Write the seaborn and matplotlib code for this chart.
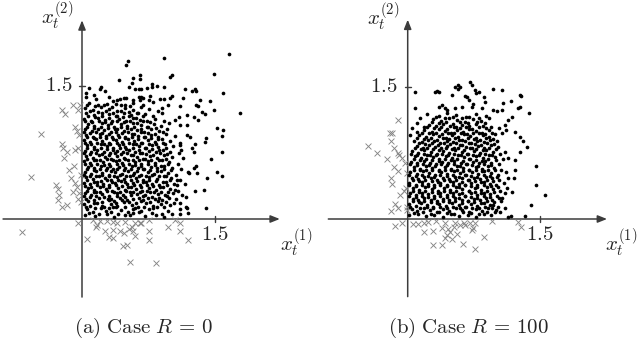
import matplotlib
matplotlib.use("Agg")
import matplotlib.pyplot as plt
import pandas as pd
import seaborn as sns

sns.set_theme(style="white")
plt.rcParams["mathtext.fontset"] = "cm"
plt.rcParams["font.family"] = ["DejaVu Serif"]

# ---------------- data ----------------
# Panel (a): feasible states (dots)
feasible_a = [
    (0.03,0.05),(0.15,0.03),(0.28,0.06),(0.36,0.02),(0.49,0.04),(0.58,0.07),(0.71,0.03),(0.83,0.05),(0.93,0.02),(1.02,0.06),
    (0.06,0.11),(0.12,0.08),(0.21,0.12),(0.27,0.09),(0.35,0.13),(0.44,0.10),(0.52,0.08),(0.60,0.12),(0.67,0.09),(0.76,0.11),(0.85,0.13),(0.97,0.09),(1.10,0.11),
    (0.02,0.17),(0.09,0.15),(0.17,0.18),(0.25,0.14),(0.33,0.17),(0.40,0.15),(0.47,0.19),(0.56,0.16),(0.63,0.14),(0.72,0.18),(0.80,0.15),(0.89,0.17),(0.99,0.16),(1.17,0.14),
    (0.05,0.23),(0.13,0.21),(0.19,0.24),(0.29,0.22),(0.36,0.20),(0.43,0.24),(0.51,0.21),(0.58,0.23),(0.66,0.20),(0.74,0.24),(0.82,0.22),(0.90,0.21),(0.98,0.24),(1.06,0.22),
    (0.03,0.29),(0.10,0.27),(0.16,0.30),(0.23,0.28),(0.31,0.26),(0.39,0.29),(0.46,0.27),(0.54,0.30),(0.62,0.28),(0.69,0.26),(0.77,0.30),(0.86,0.28),(0.94,0.27),(1.03,0.29),(1.13,0.27),
    (0.07,0.35),(0.13,0.33),(0.20,0.36),(0.27,0.34),(0.34,0.32),(0.41,0.35),(0.48,0.33),(0.55,0.36),(0.61,0.34),(0.68,0.32),(0.75,0.35),(0.83,0.33),(0.91,0.36),(0.99,0.34),(1.08,0.32),
    (0.02,0.41),(0.09,0.39),(0.17,0.42),(0.24,0.40),(0.30,0.38),(0.37,0.41),(0.44,0.43),(0.51,0.39),(0.58,0.41),(0.65,0.38),(0.72,0.42),(0.79,0.40),(0.87,0.38),(0.95,0.42),(1.04,0.40),(1.16,0.39),
    (0.05,0.47),(0.12,0.45),(0.19,0.48),(0.26,0.46),(0.33,0.44),(0.40,0.47),(0.47,0.45),(0.54,0.48),(0.61,0.46),(0.69,0.44),(0.76,0.47),(0.84,0.45),(0.92,0.48),(1.00,0.46),(1.10,0.44),
    (0.03,0.53),(0.10,0.51),(0.16,0.54),(0.23,0.52),(0.30,0.50),(0.37,0.53),(0.45,0.51),(0.52,0.54),(0.59,0.52),(0.66,0.50),(0.74,0.53),(0.81,0.51),(0.89,0.54),(0.97,0.52),(1.06,0.50),(1.19,0.53),
    (0.07,0.59),(0.14,0.57),(0.21,0.60),(0.28,0.58),(0.35,0.56),(0.42,0.59),(0.49,0.57),(0.56,0.60),(0.63,0.58),(0.70,0.56),(0.78,0.59),(0.85,0.57),(0.93,0.60),(1.02,0.58),(1.12,0.56),
    (0.02,0.65),(0.09,0.63),(0.16,0.66),(0.24,0.64),(0.31,0.62),(0.38,0.65),(0.45,0.63),(0.52,0.66),(0.60,0.64),(0.67,0.62),(0.74,0.65),(0.82,0.63),(0.90,0.66),(0.98,0.64),(1.08,0.62),
    (0.05,0.71),(0.12,0.69),(0.19,0.72),(0.26,0.70),(0.33,0.68),(0.40,0.71),(0.47,0.69),(0.55,0.72),(0.62,0.70),(0.69,0.68),(0.77,0.71),(0.84,0.69),(0.92,0.72),(1.01,0.70),(1.14,0.69),
    (0.03,0.77),(0.10,0.75),(0.17,0.78),(0.25,0.76),(0.32,0.74),(0.39,0.77),(0.46,0.75),(0.53,0.78),(0.60,0.76),(0.68,0.74),(0.75,0.77),(0.83,0.75),(0.91,0.78),(0.99,0.76),(1.09,0.74),
    (0.06,0.83),(0.13,0.81),(0.21,0.84),(0.28,0.82),(0.35,0.80),(0.42,0.83),(0.49,0.81),(0.57,0.84),(0.64,0.82),(0.71,0.80),(0.79,0.83),(0.86,0.81),(0.94,0.84),(1.03,0.82),
    (0.02,0.89),(0.09,0.87),(0.16,0.90),(0.23,0.88),(0.31,0.86),(0.38,0.89),(0.45,0.87),(0.52,0.90),(0.59,0.88),(0.67,0.86),(0.74,0.89),(0.82,0.87),(0.90,0.90),(0.99,0.88),(1.11,0.86),
    (0.05,0.95),(0.12,0.93),(0.20,0.96),(0.27,0.94),(0.34,0.92),(0.41,0.95),(0.48,0.93),(0.56,0.96),(0.63,0.94),(0.70,0.92),(0.78,0.95),(0.86,0.93),(0.95,0.96),(1.05,0.94),
    (0.03,1.01),(0.11,0.99),(0.18,1.02),(0.25,1.00),(0.33,0.98),(0.40,1.01),(0.47,0.99),(0.55,1.02),(0.62,1.00),(0.70,0.98),(0.78,1.01),(0.87,0.99),(0.96,1.02),
    (0.07,1.07),(0.14,1.05),(0.22,1.08),(0.29,1.06),(0.36,1.04),(0.44,1.07),(0.51,1.05),(0.58,1.08),(0.66,1.06),(0.73,1.04),(0.81,1.07),(0.89,1.05),(0.98,1.08),
    (0.02,1.13),(0.10,1.11),(0.18,1.14),(0.26,1.12),(0.34,1.10),(0.42,1.13),(0.50,1.11),(0.57,1.14),(0.65,1.12),(0.73,1.10),(0.82,1.13),(0.92,1.11),
    (0.05,1.19),(0.14,1.17),(0.22,1.20),(0.31,1.18),(0.39,1.16),(0.47,1.19),(0.55,1.17),(0.63,1.20),(0.71,1.18),(0.80,1.16),(0.90,1.19),
    (0.03,1.25),(0.12,1.23),(0.21,1.26),(0.30,1.24),(0.39,1.22),(0.48,1.25),(0.57,1.23),(0.66,1.26),(0.76,1.24),(0.86,1.22),
    (0.08,1.31),(0.18,1.29),(0.38,1.30),(0.48,1.28),(0.58,1.31),(0.69,1.29),(0.80,1.32),
    (0.04,1.37),(0.16,1.35),(0.57,1.34),(0.88,1.35),
    # second layer of the dense core
    (0.08,0.07),(0.19,0.06),(0.33,0.08),(0.41,0.06),(0.54,0.05),(0.64,0.08),(0.79,0.07),(0.90,0.06),
    (0.04,0.13),(0.15,0.12),(0.23,0.15),(0.30,0.12),(0.38,0.14),(0.49,0.13),(0.57,0.11),(0.70,0.14),(0.80,0.12),(0.92,0.14),
    (0.07,0.20),(0.13,0.18),(0.22,0.19),(0.31,0.21),(0.38,0.18),(0.45,0.21),(0.53,0.19),(0.61,0.18),(0.69,0.21),(0.77,0.19),(0.86,0.20),(0.95,0.19),(1.04,0.18),
    (0.02,0.26),(0.09,0.25),(0.16,0.26),(0.25,0.25),(0.33,0.23),(0.40,0.26),(0.48,0.25),(0.55,0.27),(0.64,0.24),(0.71,0.27),(0.79,0.25),(0.87,0.24),(0.96,0.26),
    (0.06,0.32),(0.13,0.30),(0.20,0.31),(0.28,0.32),(0.36,0.30),(0.43,0.31),(0.50,0.32),(0.58,0.31),(0.65,0.30),(0.73,0.32),(0.81,0.31),(0.89,0.30),(0.97,0.31),
    (0.03,0.37),(0.10,0.36),(0.17,0.38),(0.24,0.37),(0.31,0.36),(0.38,0.38),(0.45,0.37),(0.52,0.36),(0.59,0.38),(0.66,0.36),(0.73,0.38),(0.80,0.37),(0.88,0.36),(0.96,0.38),
    (0.06,0.44),(0.13,0.42),(0.21,0.43),(0.28,0.44),(0.34,0.42),(0.41,0.44),(0.48,0.42),(0.55,0.44),(0.62,0.43),(0.69,0.42),(0.76,0.44),(0.83,0.43),(0.91,0.42),(0.99,0.44),
    (0.02,0.50),(0.09,0.49),(0.16,0.48),(0.23,0.50),(0.30,0.48),(0.36,0.49),(0.43,0.50),(0.50,0.48),(0.57,0.50),(0.64,0.49),(0.72,0.48),(0.79,0.50),(0.87,0.49),(0.95,0.48),
    (0.06,0.56),(0.13,0.55),(0.20,0.56),(0.27,0.55),(0.33,0.54),(0.40,0.56),(0.47,0.55),(0.55,0.56),(0.62,0.54),(0.69,0.56),(0.77,0.55),(0.84,0.54),(0.92,0.56),(1.00,0.55),
    (0.03,0.62),(0.10,0.61),(0.17,0.62),(0.25,0.61),(0.32,0.60),(0.39,0.62),(0.46,0.61),(0.53,0.62),(0.60,0.61),(0.67,0.60),(0.74,0.62),(0.82,0.61),(0.89,0.60),(0.97,0.62),
    (0.06,0.68),(0.13,0.67),(0.20,0.66),(0.28,0.68),(0.35,0.67),(0.42,0.66),(0.49,0.68),(0.57,0.67),(0.64,0.66),(0.71,0.68),(0.78,0.67),(0.87,0.66),(0.95,0.68),
    (0.02,0.74),(0.09,0.73),(0.16,0.74),(0.23,0.73),(0.30,0.72),(0.37,0.74),(0.44,0.73),(0.51,0.74),(0.58,0.72),(0.65,0.74),(0.72,0.73),(0.80,0.72),(0.88,0.74),(0.96,0.73),
    (0.06,0.80),(0.14,0.79),(0.21,0.80),(0.28,0.79),(0.35,0.78),(0.43,0.80),(0.50,0.79),(0.57,0.80),(0.64,0.78),(0.72,0.80),(0.79,0.79),(0.87,0.78),(0.95,0.80),
    (0.03,0.86),(0.10,0.85),(0.17,0.86),(0.25,0.85),(0.32,0.84),(0.39,0.86),(0.46,0.85),(0.53,0.86),(0.61,0.84),(0.68,0.86),(0.75,0.85),(0.83,0.84),(0.91,0.86),
    (0.06,0.92),(0.13,0.91),(0.20,0.92),(0.27,0.91),(0.35,0.90),(0.42,0.92),(0.49,0.91),(0.56,0.92),(0.63,0.90),(0.71,0.92),(0.78,0.91),(0.86,0.90),
    (0.02,0.98),(0.09,0.97),(0.16,0.98),(0.23,0.97),(0.30,0.96),(0.38,0.98),(0.45,0.97),(0.52,0.98),(0.59,0.96),(0.67,0.98),(0.74,0.97),(0.82,0.96),(0.91,0.98),
    (0.06,1.04),(0.14,1.03),(0.21,1.04),(0.29,1.03),(0.37,1.02),(0.44,1.04),(0.51,1.03),(0.59,1.04),(0.66,1.02),(0.74,1.04),(0.83,1.03),
    (0.03,1.10),(0.11,1.09),(0.19,1.10),(0.26,1.09),(0.33,1.08),(0.40,1.10),(0.47,1.09),(0.54,1.10),(0.62,1.08),(0.69,1.10),(0.77,1.09),
    (0.07,1.16),(0.15,1.15),(0.23,1.16),(0.30,1.14),(0.38,1.16),(0.46,1.15),(0.53,1.16),(0.61,1.14),(0.69,1.16),
    (0.09,1.22),(0.18,1.21),(0.27,1.22),(0.35,1.20),(0.44,1.22),(0.53,1.21),(0.62,1.20),
    (0.06,1.28),(0.15,1.27),(0.25,1.28),(0.34,1.26),(0.44,1.28),(0.54,1.27),
    # sparse outer dots
    (1.66,1.86),(0.92,1.82),(0.52,1.78),(0.50,1.74),(0.42,1.57),(0.57,1.59),(0.65,1.62),(0.65,1.58),(0.99,1.60),(1.02,1.62),
    (1.49,1.64),(0.08,1.48),(0.20,1.47),(0.21,1.49),(0.26,1.44),(0.05,1.42),(0.13,1.40),(0.53,1.49),(0.56,1.53),(0.60,1.47),
    (0.64,1.47),(0.67,1.47),(0.73,1.48),(0.79,1.52),(0.79,1.49),(0.84,1.50),(0.92,1.49),(1.16,1.47),(1.27,1.47),(1.29,1.44),
    (1.24,1.44),(1.59,1.42),(1.78,1.20),(1.49,1.23),(1.44,1.33),(1.33,1.34),(1.29,1.29),(1.31,1.27),(1.14,1.36),(1.11,1.27),
    (1.01,1.39),(0.99,1.36),(0.92,1.35),(0.77,1.39),(0.75,1.34),(0.64,1.38),(0.67,1.38),(0.69,1.36),(0.65,1.34),(0.47,1.36),
    (0.50,1.36),(0.39,1.34),(0.43,1.35),(0.35,1.33),(0.30,1.38),(0.28,1.30),(1.39,1.18),(1.35,1.21),(1.52,1.03),(1.59,1.00),
    (0.97,1.28),(0.90,1.25),(1.18,1.17),(1.26,1.15),(1.09,1.15),(1.05,1.12),(1.31,1.12),(1.18,1.06),(1.11,1.06),(1.58,0.94),
    (1.40,0.91),(1.39,0.87),(1.18,0.95),(1.22,0.92),(1.58,0.75),(1.45,0.68),(1.27,0.85),(1.24,0.80),(1.26,0.76),(1.11,0.83),
    (1.12,0.78),(1.29,0.60),(1.26,0.58),(1.30,0.52),(1.21,0.52),(1.52,0.53),(1.58,0.48),(1.41,0.46),(1.27,0.32),(1.38,0.33),
    (1.07,0.44),(1.07,0.38),(1.05,0.33),(1.17,0.25),(1.11,0.18),(1.18,0.12),(1.40,0.12),(1.20,0.07),(1.11,0.06),
]
# Panel (a): infeasible states (crosses)
infeasible_a = [
    (-0.10,1.29),(-0.05,1.23),(-0.02,1.29),(-0.22,1.23),(-0.19,1.18),(-0.46,0.96),(-0.08,1.04),(-0.06,0.99),(-0.03,0.95),
    (-0.22,0.85),(-0.21,0.80),(-0.17,0.75),(-0.20,0.69),(-0.08,0.78),(-0.05,0.80),(-0.09,0.60),(-0.15,0.55),(-0.01,0.50),
    (-0.58,0.47),(-0.12,0.46),(-0.08,0.41),(-0.29,0.38),(-0.27,0.34),(-0.06,0.36),(-0.10,0.31),(-0.03,0.29),(-0.26,0.27),
    (-0.04,0.23),(-0.27,0.21),(-0.01,0.19),(-0.22,0.14),(-0.17,0.16),(-0.05,-0.05),(-0.68,-0.15),
    (0.12,-0.01),(0.16,-0.09),(0.17,-0.07),(0.06,-0.23),(0.26,-0.14),(0.35,-0.12),(0.30,-0.20),(0.35,-0.21),(0.43,-0.14),
    (0.47,-0.16),(0.28,-0.02),(0.35,-0.03),(0.53,-0.11),(0.56,-0.09),(0.60,-0.05),(0.65,-0.04),(0.67,-0.05),(0.58,-0.14),
    (0.60,-0.19),(0.46,-0.31),(0.51,-0.29),(0.75,-0.14),(0.75,-0.24),(0.75,-0.01),(0.97,-0.09),(1.05,-0.01),(1.11,-0.04),
    (1.11,-0.14),(1.20,-0.24),(0.54,-0.48),(0.83,-0.50),(0.20,-0.02),(0.40,-0.05),(0.49,-0.03),
]
# Panel (b): feasible states (dots)
feasible_b = [
    (0.02,0.04),(0.12,0.06),(0.21,0.03),(0.30,0.05),(0.40,0.02),(0.49,0.06),(0.58,0.03),(0.68,0.05),(0.77,0.02),(0.86,0.06),(0.94,0.04),
    (0.05,0.11),(0.11,0.09),(0.18,0.12),(0.25,0.10),(0.33,0.08),(0.40,0.11),(0.47,0.09),(0.55,0.12),(0.62,0.10),(0.69,0.08),(0.77,0.11),(0.84,0.09),(0.91,0.12),(1.00,0.10),
    (0.02,0.17),(0.09,0.15),(0.15,0.18),(0.22,0.16),(0.29,0.14),(0.36,0.17),(0.43,0.15),(0.50,0.18),(0.58,0.16),(0.65,0.14),(0.72,0.17),(0.79,0.15),(0.86,0.18),(0.93,0.16),(1.02,0.14),
    (0.06,0.23),(0.12,0.21),(0.19,0.24),(0.26,0.22),(0.33,0.20),(0.40,0.23),(0.47,0.21),(0.54,0.24),(0.61,0.22),(0.68,0.20),(0.75,0.23),(0.82,0.21),(0.89,0.24),(0.96,0.22),(1.06,0.20),
    (0.03,0.29),(0.09,0.27),(0.16,0.30),(0.23,0.28),(0.30,0.26),(0.37,0.29),(0.44,0.27),(0.51,0.30),(0.58,0.28),(0.65,0.26),(0.72,0.29),(0.79,0.27),(0.86,0.30),(0.93,0.28),(1.01,0.26),(1.10,0.29),
    (0.06,0.35),(0.13,0.33),(0.20,0.36),(0.27,0.34),(0.34,0.32),(0.41,0.35),(0.48,0.33),(0.55,0.36),(0.62,0.34),(0.69,0.32),(0.76,0.35),(0.83,0.33),(0.90,0.36),(0.97,0.34),(1.05,0.32),(1.13,0.35),
    (0.02,0.41),(0.09,0.39),(0.16,0.42),(0.23,0.40),(0.30,0.38),(0.37,0.41),(0.44,0.39),(0.51,0.42),(0.58,0.40),(0.65,0.38),(0.72,0.41),(0.79,0.39),(0.86,0.42),(0.93,0.40),(1.00,0.38),(1.09,0.41),
    (0.05,0.47),(0.12,0.45),(0.19,0.48),(0.26,0.46),(0.33,0.44),(0.40,0.47),(0.47,0.45),(0.54,0.48),(0.61,0.46),(0.68,0.44),(0.75,0.47),(0.82,0.45),(0.89,0.48),(0.96,0.46),(1.04,0.44),(1.14,0.47),
    (0.03,0.53),(0.10,0.51),(0.17,0.54),(0.24,0.52),(0.31,0.50),(0.38,0.53),(0.45,0.51),(0.52,0.54),(0.59,0.52),(0.66,0.50),(0.73,0.53),(0.80,0.51),(0.87,0.54),(0.94,0.52),(1.02,0.50),(1.11,0.53),
    (0.07,0.59),(0.14,0.57),(0.21,0.60),(0.28,0.58),(0.35,0.56),(0.42,0.59),(0.49,0.57),(0.56,0.60),(0.63,0.58),(0.70,0.56),(0.77,0.59),(0.84,0.57),(0.91,0.60),(0.98,0.58),(1.06,0.56),
    (0.04,0.65),(0.11,0.63),(0.18,0.66),(0.25,0.64),(0.32,0.62),(0.39,0.65),(0.46,0.63),(0.53,0.66),(0.60,0.64),(0.67,0.62),(0.74,0.65),(0.81,0.63),(0.88,0.66),(0.95,0.64),(1.03,0.62),
    (0.08,0.71),(0.15,0.69),(0.22,0.72),(0.29,0.70),(0.36,0.68),(0.43,0.71),(0.50,0.69),(0.57,0.72),(0.64,0.70),(0.71,0.68),(0.78,0.71),(0.85,0.69),(0.92,0.72),(0.99,0.70),(1.08,0.68),
    (0.05,0.77),(0.12,0.75),(0.19,0.78),(0.26,0.76),(0.33,0.74),(0.40,0.77),(0.47,0.75),(0.54,0.78),(0.61,0.76),(0.68,0.74),(0.75,0.77),(0.82,0.75),(0.89,0.78),(0.97,0.76),(1.05,0.74),
    (0.10,0.83),(0.17,0.81),(0.24,0.84),(0.31,0.82),(0.38,0.80),(0.45,0.83),(0.52,0.81),(0.59,0.84),(0.66,0.82),(0.73,0.80),(0.80,0.83),(0.87,0.81),(0.94,0.84),(1.02,0.82),
    (0.07,0.89),(0.16,0.87),(0.23,0.90),(0.30,0.88),(0.37,0.86),(0.44,0.89),(0.51,0.87),(0.58,0.90),(0.65,0.88),(0.72,0.86),(0.79,0.89),(0.86,0.87),(0.93,0.90),(1.01,0.88),
    (0.13,0.95),(0.21,0.93),(0.29,0.96),(0.36,0.94),(0.43,0.92),(0.50,0.95),(0.57,0.93),(0.64,0.96),(0.71,0.94),(0.78,0.92),(0.85,0.95),(0.92,0.93),(0.99,0.96),
    (0.19,1.01),(0.27,0.99),(0.35,1.02),(0.42,1.00),(0.49,0.98),(0.56,1.01),(0.63,0.99),(0.70,1.02),(0.77,1.00),(0.84,0.98),(0.92,1.01),
    (0.24,1.07),(0.32,1.05),(0.40,1.08),(0.48,1.06),(0.55,1.04),(0.62,1.07),(0.70,1.05),(0.77,1.08),(0.85,1.06),(0.94,1.04),
    (0.29,1.13),(0.38,1.11),(0.47,1.14),(0.56,1.12),(0.65,1.10),(0.74,1.13),(0.83,1.11),(0.92,1.14),
    (0.22,1.19),(0.35,1.17),(0.45,1.20),(0.55,1.18),(0.66,1.16),(0.78,1.19),(0.89,1.17),
    # second layer of the dense core
    (0.07,0.07),(0.17,0.08),(0.26,0.06),(0.35,0.08),(0.44,0.07),(0.53,0.06),(0.63,0.08),(0.72,0.07),(0.81,0.06),(0.90,0.08),
    (0.03,0.14),(0.14,0.13),(0.22,0.14),(0.29,0.12),(0.37,0.14),(0.44,0.13),(0.51,0.14),(0.59,0.12),(0.66,0.14),(0.73,0.13),(0.81,0.12),(0.88,0.14),(0.96,0.13),
    (0.06,0.20),(0.13,0.19),(0.19,0.20),(0.26,0.19),(0.33,0.18),(0.40,0.20),(0.47,0.19),(0.54,0.20),(0.61,0.18),(0.68,0.20),(0.75,0.19),(0.83,0.18),(0.90,0.20),(0.98,0.19),
    (0.02,0.26),(0.09,0.25),(0.16,0.26),(0.23,0.25),(0.30,0.24),(0.37,0.26),(0.44,0.25),(0.51,0.26),(0.58,0.24),(0.65,0.26),(0.72,0.25),(0.79,0.24),(0.86,0.26),(0.93,0.25),(1.03,0.24),
    (0.06,0.32),(0.13,0.31),(0.20,0.32),(0.27,0.31),(0.34,0.30),(0.41,0.32),(0.48,0.31),(0.55,0.32),(0.62,0.30),(0.69,0.32),(0.76,0.31),(0.83,0.30),(0.90,0.32),(0.98,0.31),
    (0.02,0.38),(0.09,0.37),(0.16,0.38),(0.23,0.37),(0.30,0.36),(0.37,0.38),(0.44,0.37),(0.51,0.38),(0.58,0.36),(0.65,0.38),(0.72,0.37),(0.79,0.36),(0.86,0.38),(0.94,0.37),(1.02,0.36),
    (0.06,0.44),(0.13,0.43),(0.20,0.44),(0.27,0.43),(0.34,0.42),(0.41,0.44),(0.48,0.43),(0.55,0.44),(0.62,0.42),(0.69,0.44),(0.76,0.43),(0.83,0.42),(0.90,0.44),(0.97,0.43),
    (0.02,0.50),(0.09,0.49),(0.16,0.50),(0.23,0.49),(0.30,0.48),(0.37,0.50),(0.44,0.49),(0.51,0.50),(0.58,0.48),(0.65,0.50),(0.72,0.49),(0.79,0.48),(0.86,0.50),(0.93,0.49),(1.01,0.48),
    (0.07,0.56),(0.14,0.55),(0.21,0.56),(0.28,0.55),(0.35,0.54),(0.42,0.56),(0.49,0.55),(0.56,0.56),(0.63,0.54),(0.70,0.56),(0.77,0.55),(0.84,0.54),(0.91,0.56),(0.99,0.55),
    (0.03,0.62),(0.10,0.61),(0.17,0.62),(0.24,0.61),(0.31,0.60),(0.38,0.62),(0.45,0.61),(0.52,0.62),(0.59,0.60),(0.66,0.62),(0.73,0.61),(0.80,0.60),(0.87,0.62),(0.95,0.61),
    (0.07,0.68),(0.14,0.67),(0.21,0.68),(0.28,0.67),(0.35,0.66),(0.42,0.68),(0.49,0.67),(0.56,0.68),(0.63,0.66),(0.70,0.68),(0.77,0.67),(0.84,0.66),(0.91,0.68),(1.00,0.67),
    (0.04,0.74),(0.11,0.73),(0.18,0.74),(0.25,0.73),(0.32,0.72),(0.39,0.74),(0.46,0.73),(0.53,0.74),(0.60,0.72),(0.67,0.74),(0.74,0.73),(0.81,0.72),(0.88,0.74),(0.96,0.73),
    (0.08,0.80),(0.15,0.79),(0.22,0.80),(0.29,0.79),(0.36,0.78),(0.43,0.80),(0.50,0.79),(0.57,0.80),(0.64,0.78),(0.71,0.80),(0.78,0.79),(0.85,0.78),(0.92,0.80),(1.00,0.79),
    (0.13,0.86),(0.20,0.85),(0.27,0.86),(0.34,0.84),(0.41,0.86),(0.48,0.85),(0.55,0.86),(0.62,0.84),(0.69,0.86),(0.76,0.85),(0.83,0.84),(0.90,0.86),(0.98,0.85),
    (0.10,0.92),(0.18,0.91),(0.26,0.92),(0.33,0.90),(0.40,0.92),(0.47,0.91),(0.54,0.92),(0.61,0.90),(0.68,0.92),(0.75,0.91),(0.82,0.90),(0.89,0.92),(0.97,0.91),
    (0.16,0.98),(0.24,0.97),(0.32,0.98),(0.39,0.96),(0.46,0.98),(0.53,0.97),(0.60,0.98),(0.67,0.96),(0.74,0.98),(0.81,0.97),(0.88,0.96),(0.96,0.98),
    (0.22,1.04),(0.30,1.03),(0.38,1.04),(0.45,1.02),(0.52,1.04),(0.59,1.03),(0.66,1.04),(0.73,1.02),(0.81,1.04),(0.89,1.03),
    (0.27,1.10),(0.35,1.09),(0.43,1.10),(0.51,1.08),(0.59,1.10),(0.68,1.09),(0.79,1.10),(0.88,1.09),
    (0.32,1.16),(0.42,1.15),(0.51,1.16),(0.61,1.14),(0.70,1.16),(0.81,1.15),
    # sparse outer dots
    (0.71,1.55),(0.73,1.52),(0.54,1.50),(0.57,1.47),(0.59,1.50),(0.57,1.52),(0.76,1.46),(0.78,1.43),(0.81,1.44),(0.97,1.47),
    (1.07,1.46),(0.33,1.45),(0.31,1.44),(0.35,1.44),(0.08,1.44),(0.50,1.41),(0.65,1.39),(0.69,1.35),(0.67,1.38),(0.86,1.38),
    (0.88,1.33),(1.27,1.41),(1.29,1.39),(1.17,1.34),(1.08,1.31),(0.08,1.26),(1.27,1.27),(1.25,1.26),(1.37,1.20),(0.97,1.24),
    (1.01,1.22),(1.07,1.24),(0.35,1.27),(0.39,1.29),(0.42,1.26),(0.44,1.24),(0.54,1.26),(0.61,1.27),(0.73,1.27),(0.74,1.30),
    (0.84,1.26),(1.18,1.16),(1.14,1.12),(1.10,1.07),(1.12,1.01),(1.22,0.99),(1.27,0.93),(1.31,0.88),(1.35,0.82),(1.03,1.03),
    (1.07,0.97),(0.10,1.09),(0.05,1.03),(1.46,0.60),(1.46,0.39),(1.56,0.27),(1.40,0.16),(1.27,0.76),(1.22,0.67),(1.22,0.56),
    (1.20,0.46),(1.18,0.31),(1.10,0.76),(1.14,0.69),(1.33,0.03),(1.17,0.03),(1.14,0.02),(1.07,0.24),(1.10,0.12),(1.05,0.08),
    (0.97,0.16),(0.99,0.08),(0.14,1.15),(0.18,1.04),(0.03,0.95),(0.11,0.99),
]
# Panel (b): infeasible states (crosses)
infeasible_b = [
    (-0.11,1.12),(-0.20,0.97),(-0.18,0.97),(-0.19,0.88),(-0.45,0.83),(-0.16,0.80),(-0.11,0.75),(-0.10,0.73),(-0.35,0.75),
    (-0.24,0.68),(-0.07,0.69),(-0.03,0.64),(-0.15,0.59),(-0.11,0.54),(-0.19,0.47),(-0.18,0.40),(-0.01,0.52),(-0.02,0.35),
    (-0.04,0.32),(-0.09,0.27),(-0.14,0.17),(-0.11,0.13),(-0.19,0.09),(-0.01,0.14),(-0.01,0.10),(-0.14,-0.08),(-0.07,-0.05),
    (0.06,-0.06),(0.12,-0.06),(0.18,-0.05),(0.19,-0.15),(0.29,-0.14),(0.39,-0.10),(0.42,-0.05),(0.46,-0.11),(0.44,-0.18),
    (0.42,-0.21),(0.48,-0.15),(0.52,-0.09),(0.54,-0.04),(0.56,-0.17),(0.50,-0.23),(0.59,-0.07),(0.64,-0.04),(0.65,-0.07),
    (0.71,-0.04),(0.74,-0.10),(0.73,-0.13),(0.76,-0.05),(0.63,-0.28),(0.29,-0.30),(0.39,-0.30),(0.76,-0.34),(0.87,-0.20),
    (0.96,-0.02),(1.25,-0.03),(1.29,-0.09),(0.23,-0.03),(0.32,-0.02),
]
tick_value = 1.5
captions = [r"$\mathrm{(a)\ Case\ }R\,=\,0$", r"$\mathrm{(b)\ Case\ }R\,=\,100$"]
x_label = r"$x_t^{(1)}$"
y_label = r"$x_t^{(2)}$"

# ---------------- layout (pixel geometry of each panel) ----------------
W, H = 640, 343
panels = [
    dict(left=0, ox=82.0, oy=219.0, s=88.7, feas=feasible_a, infeas=infeasible_a,
         xext=(-0.89, 2.23), yext=(-0.88, 2.24), cap_x=143),
    dict(left=320, ox=407.7, oy=219.0, s=88.2, feas=feasible_b, infeas=infeasible_b,
         xext=(-0.90, 2.26), yext=(-0.88, 2.26), cap_x=468),
]

fig = plt.figure(figsize=(W / 100, H / 100), dpi=100)
axis_col = "#3c3c3c"
for i, p in enumerate(panels):
    ax = fig.add_axes([p["left"] / W, 0, 320 / W, 1])
    s = p["s"]
    ax.set_xlim((p["left"] - p["ox"]) / s, (p["left"] + 320 - p["ox"]) / s)
    ax.set_ylim((p["oy"] - H) / s, p["oy"] / s)
    ax.axis("off")

    arrow = dict(arrowstyle="-|>,head_length=0.55,head_width=0.22", color=axis_col,
                 lw=1.1, shrinkA=0, shrinkB=0, mutation_scale=10)
    ax.annotate("", xy=(p["xext"][1], 0), xytext=(p["xext"][0], 0), arrowprops=arrow, zorder=1)
    ax.annotate("", xy=(0, p["yext"][1]), xytext=(0, p["yext"][0]), arrowprops=arrow, zorder=1)
    t = 3.2 / s
    ax.plot([tick_value, tick_value], [-t, t], color=axis_col, lw=1.0, zorder=1)
    ax.plot([-t, t], [tick_value, tick_value], color=axis_col, lw=1.0, zorder=1)

    df_f = pd.DataFrame(p["feas"], columns=["x1", "x2"])
    df_i = pd.DataFrame(p["infeas"], columns=["x1", "x2"])
    sns.scatterplot(data=df_i, x="x1", y="x2", marker="x", s=18, color="#858585",
                    linewidth=0.65, ax=ax, zorder=2, legend=False)
    sns.scatterplot(data=df_f, x="x1", y="x2", marker="o", s=7, color="black",
                    linewidth=0, ax=ax, zorder=3, legend=False)

    fs = 15
    ax.text(tick_value, -0.18, r"$1.5$", ha="center", va="center", fontsize=fs)
    ax.text(-0.11, tick_value, r"$1.5$", ha="right", va="center", fontsize=fs)
    ax.text(2.42, -0.27, x_label, ha="center", va="center", fontsize=fs)
    ax.text(-0.28, 2.29, y_label, ha="center", va="center", fontsize=fs)
    fig.text(p["cap_x"] / W, 1 - 328 / H, captions[i], ha="center", va="center", fontsize=fs)

fig.savefig("out.png", dpi=100)
